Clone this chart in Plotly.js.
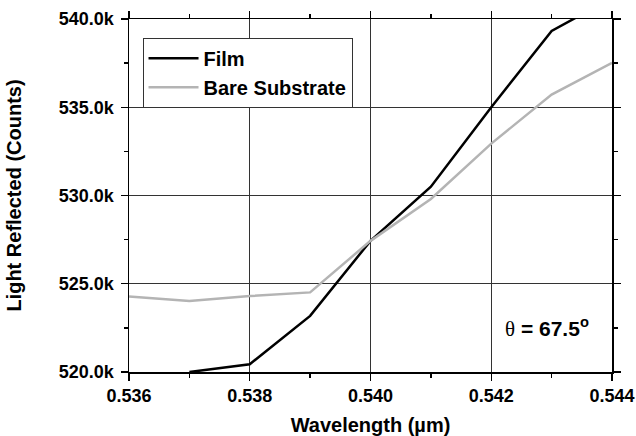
<!DOCTYPE html>
<html>
<head>
<meta charset="utf-8">
<script src="https://cdn.plot.ly/plotly-3.0.1.min.js"></script>
<style>html,body{margin:0;padding:0;background:#fff;}#chart{width:636px;height:436px;}</style>
</head>
<body>
<div id="chart"></div>
<script>
// Wavelength (µm)
const filmWavelength = [0.537, 0.538, 0.539, 0.540, 0.541, 0.542, 0.543, 0.544];
// Light reflected, thousands of counts
const filmCounts = [520.0, 520.44, 523.18, 527.43, 530.5, 535.0, 539.32, 541.2];
const bareWavelength = [0.536, 0.537, 0.538, 0.539, 0.540, 0.541, 0.542, 0.543, 0.544];
const bareCounts = [524.28, 524.02, 524.3, 524.51, 527.43, 529.8, 532.94, 535.72, 537.52];
const seriesNames = ["Film", "Bare Substrate"];
const xTickVals = [0.536, 0.538, 0.540, 0.542, 0.544];
const xTickText = ["0.536", "0.538", "0.540", "0.542", "0.544"];
const yTickVals = [520, 525, 530, 535, 540];
const yTickText = ["520.0k", "525.0k", "530.0k", "535.0k", "540.0k"];

const font = "'Liberation Sans', Arial, sans-serif";
const traces = [
  {x: filmWavelength, y: filmCounts, name: seriesNames[0], type: "scatter", mode: "lines",
   line: {color: "#000000", width: 2.5}},
  {x: bareWavelength, y: bareCounts, name: seriesNames[1], type: "scatter", mode: "lines",
   line: {color: "#b4b4b4", width: 2.5}}
];
const axisCommon = {
  showline: true, linecolor: "#000", linewidth: 1.5, mirror: "ticks",
  ticks: "outside", ticklen: 7, tickwidth: 1.3, tickcolor: "#000",
  showgrid: true, gridcolor: "#333", gridwidth: 1, zeroline: false,
  tickfont: {family: font, size: 18, color: "#000", weight: "bold"}
};
const layout = {
  width: 636, height: 436,
  margin: {l: 129, r: 24, t: 19, b: 64},
  paper_bgcolor: "#fff", plot_bgcolor: "#fff",
  showlegend: true,
  legend: {x: 0.028, y: 0.947, xanchor: "left", yanchor: "top",
    bordercolor: "#333", borderwidth: 1, bgcolor: "#fff",
    font: {family: font, size: 20, color: "#000", weight: "bold"},
    itemwidth: 50, tracegroupgap: 0},
  xaxis: Object.assign({}, axisCommon, {
    range: [0.536, 0.544], tickmode: "array", tickvals: xTickVals, ticktext: xTickText,
    minor: {dtick: 0.001, ticks: "outside", ticklen: 4, tickcolor: "#000", showgrid: false},
    title: {text: "Wavelength (µm)", font: {family: font, size: 20, color: "#000", weight: "bold"}, standoff: 14}
  }),
  yaxis: Object.assign({}, axisCommon, {
    range: [520, 540], tickmode: "array", tickvals: yTickVals, ticktext: yTickText,
    ticklabelstandoff: 3,
    minor: {dtick: 2.5, ticks: "outside", ticklen: 4, tickcolor: "#000", showgrid: false},
    title: {text: "Light Reflected (Counts)", font: {family: font, size: 20, color: "#000", weight: "bold"}, standoff: 32}
  }),
  annotations: [{
    xref: "paper", yref: "paper", x: 0.865, y: 0.125, xanchor: "center", yanchor: "middle", showarrow: false,
    text: "<span style='font-family:\"Liberation Serif\",serif;font-weight:normal'>θ</span><b> = 67.5<sup>o</sup></b>",
    font: {family: font, size: 21, color: "#000"}
  }]
};
Plotly.newPlot("chart", traces, layout, {displayModeBar: false, staticPlot: true});
</script>
</body>
</html>
